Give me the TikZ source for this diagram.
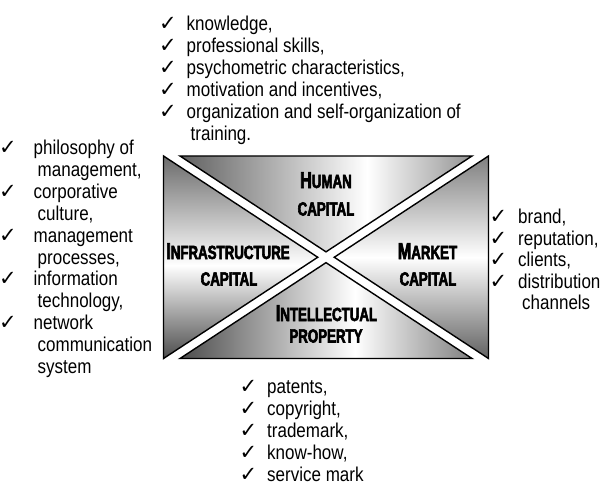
\documentclass[tikz,border=0pt]{standalone}
\usepackage{fontspec}
\setmainfont{Liberation Sans}[FakeStretch=0.85]
\newfontfamily\symfont{DejaVu Sans}
\newfontfamily\labelfont{Liberation Sans}[FakeStretch=0.70, FakeBold=3]

% text sizes
\newcommand\itemfont{\fontsize{20}{22}\selectfont}
\newcommand\chk[1][10pt]{\llap{{\symfont\fontsize{21}{21}\selectfont\char"2713}\hspace{#1}}}
\newcommand\capbig[1]{{\fontsize{23}{24}\selectfont #1}}
\newcommand\capsmall[1]{{\fontsize{19}{24}\selectfont #1}}

% metallic fills of the four triangles
\pgfdeclarehorizontalshading{sheenTop}{100bp}{color(0bp)=(black!62); color(25bp)=(black!62); color(57bp)=(white); color(75bp)=(black!42); color(100bp)=(black!42)}
\pgfdeclarehorizontalshading{sheenBottom}{100bp}{color(0bp)=(black!70); color(25bp)=(black!70); color(55bp)=(white); color(75bp)=(black!50); color(100bp)=(black!50)}
\pgfdeclareverticalshading{sheenLeft}{100bp}{color(0bp)=(black!70); color(25bp)=(black!70); color(48bp)=(white); color(75bp)=(black!58); color(100bp)=(black!58)}
\pgfdeclareverticalshading{sheenRight}{100bp}{color(0bp)=(black!62); color(25bp)=(black!62); color(50bp)=(white); color(75bp)=(black!50); color(100bp)=(black!50)}

\tikzset{
  item/.style={anchor=base west, inner sep=0pt, font=\itemfont},
  lab/.style={anchor=base, inner sep=0pt, font=\labelfont\bfseries},
  tri/.style={draw=black, line width=1.4pt, line join=miter},
}

\begin{document}
\begin{tikzpicture}[x=1pt, y=-1pt]
\useasboundingbox (0,0) rectangle (607,497);

% corners of the frame and the ends of the two white bands
\coordinate (tl) at (163.5,156);
\coordinate (tr) at (488.5,156);
\coordinate (bl) at (163.5,358.5);
\coordinate (br) at (488.5,358.5);
\coordinate (t1) at (180,156);
\coordinate (t2) at (472,156);
\coordinate (b1) at (180,358.5);
\coordinate (b2) at (472,358.5);
\coordinate (apexL) at (intersection of tl--b2 and t2--bl);
\coordinate (apexT) at (intersection of t1--br and t2--bl);
\coordinate (apexR) at (intersection of t1--br and tr--b1);
\coordinate (apexB) at (intersection of tl--b2 and tr--b1);

% four capital triangles
\shadedraw[tri, shading=sheenLeft] (tl) -- (apexL) -- (bl) -- cycle;
\shadedraw[tri, shading=sheenTop] (t1) -- (t2) -- (apexT) -- cycle;
\shadedraw[tri, shading=sheenRight] (tr) -- (br) -- (apexR) -- cycle;
\shadedraw[tri, shading=sheenBottom] (b1) -- (apexB) -- (b2) -- cycle;

% triangle captions
\node[lab] (human1) at (326,188) {\capbig{H}\capsmall{UMAN}};
\node[lab] (human2) at (326,215.5) {\capsmall{CAPITAL}};
\node[lab] (infra1) at (228,259) {\capbig{I}\capsmall{NFRASTRUCTURE}};
\node[lab] (infra2) at (229,285.5) {\capsmall{CAPITAL}};
\node[lab] (market1) at (427.5,259) {\capbig{M}\capsmall{ARKET}};
\node[lab] (market2) at (428,285.5) {\capsmall{CAPITAL}};
\node[lab] (intel1) at (326.5,321) {\capbig{I}\capsmall{NTELLECTUAL}};
\node[lab] (intel2) at (326,342.5) {\capsmall{PROPERTY}};

% human capital
\node[item] (h1) at (186.5,30.5) {\chk knowledge,};
\node[item] (h2) at (186.5,52.6) {\chk professional skills,};
\node[item] (h3) at (186.5,74.7) {\chk psychometric characteristics,};
\node[item] (h4) at (186.5,96.8) {\chk motivation and incentives,};
\node[item] (h5) at (186.5,118.9) {\chk organization and self-organization of};
\node[item] (h6) at (190.5,141) {training.};

% infrastructure capital
\node[item] (i1) at (33.5,155) {\chk[17pt]philosophy of};
\node[item] (i2) at (37.5,176.8) {management,};
\node[item] (i3) at (33.5,198.6) {\chk[17pt]corporative};
\node[item] (i4) at (37.5,220.4) {culture,};
\node[item] (i5) at (33.5,242.2) {\chk[17pt]management};
\node[item] (i6) at (37.5,264) {processes,};
\node[item] (i7) at (33.5,285.8) {\chk[17pt]information};
\node[item] (i8) at (37.5,307.6) {technology,};
\node[item] (i9) at (33.5,329.4) {\chk[17pt]network};
\node[item] (i10) at (37.5,351.2) {communication};
\node[item] (i11) at (37.5,373) {system};

% market capital
\node[item] (m1) at (518,223.5) {\chk[11pt]brand,};
\node[item] (m2) at (518,245) {\chk[11pt]reputation,};
\node[item] (m3) at (518,266.5) {\chk[11pt]clients,};
\node[item] (m4) at (518,288) {\chk[11pt]distribution};
\node[item] (m5) at (522,309.5) {channels};

% intellectual property
\node[item] (p1) at (267,393) {\chk patents,};
\node[item] (p2) at (267,415) {\chk copyright,};
\node[item] (p3) at (267,437) {\chk trademark,};
\node[item] (p4) at (267,459) {\chk know-how,};
\node[item] (p5) at (267,481) {\chk service mark};
\end{tikzpicture}
\end{document}
